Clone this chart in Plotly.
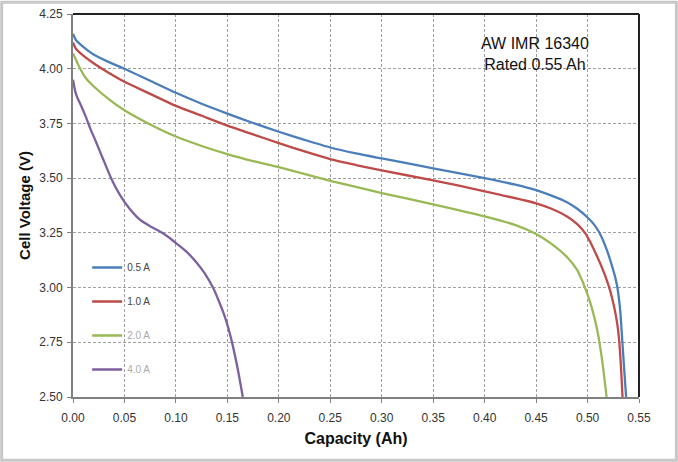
import plotly.graph_objects as go

# discharge curves: capacity (Ah) vs cell voltage (V)
cap_05 = [0, 0.003, 0.01, 0.02, 0.035, 0.05, 0.075, 0.10, 0.125, 0.15, 0.175, 0.20, 0.225, 0.25, 0.275, 0.30, 0.35,
          0.40, 0.43, 0.45, 0.465, 0.48, 0.49, 0.50, 0.506, 0.511, 0.516, 0.520, 0.524, 0.527, 0.529, 0.5305, 0.532,
          0.533, 0.534, 0.5357, 0.5375]
volt_05 = [4.16, 4.13, 4.10, 4.065, 4.03, 4.00, 3.945, 3.89, 3.84, 3.795, 3.752, 3.712, 3.675, 3.64, 3.613, 3.59, 3.545,
           3.50, 3.47, 3.445, 3.42, 3.39, 3.36, 3.32, 3.29, 3.255, 3.205, 3.155, 3.095, 3.045, 3.00, 2.95, 2.88,
           2.81, 2.74, 2.62, 2.50]

cap_10 = [0, 0.003, 0.01, 0.02, 0.035, 0.05, 0.075, 0.10, 0.125, 0.15, 0.175, 0.20, 0.225, 0.25, 0.275, 0.30, 0.35,
          0.40, 0.45, 0.465, 0.48, 0.49, 0.4975, 0.503, 0.509, 0.515, 0.519, 0.522, 0.525, 0.527, 0.529, 0.5305,
          0.5315, 0.5328, 0.534]
volt_10 = [4.12, 4.09, 4.06, 4.025, 3.98, 3.94, 3.885, 3.83, 3.785, 3.74, 3.70, 3.66, 3.622, 3.587, 3.56, 3.535, 3.49,
           3.44, 3.385, 3.36, 3.325, 3.29, 3.25, 3.205, 3.145, 3.08, 3.03, 2.985, 2.93, 2.885, 2.83, 2.77,
           2.71, 2.61, 2.50]

cap_20 = [0, 0.002, 0.004, 0.007, 0.012, 0.02, 0.035, 0.05, 0.075, 0.10, 0.125, 0.15, 0.175, 0.20, 0.25, 0.30,
          0.35, 0.40, 0.43, 0.45, 0.465, 0.48, 0.49, 0.494, 0.4975, 0.502, 0.506, 0.509, 0.511, 0.5135, 0.516, 0.5185]
volt_20 = [4.07, 4.05, 4.03, 4.00, 3.96, 3.92, 3.86, 3.81, 3.745, 3.69, 3.647, 3.61, 3.578, 3.55, 3.488, 3.432,
           3.38, 3.325, 3.285, 3.245, 3.20, 3.14, 3.08, 3.04, 3.00, 2.94, 2.875, 2.815, 2.765, 2.69, 2.60, 2.50]

cap_40 = [0, 0.002, 0.004, 0.008, 0.0125, 0.0165, 0.022, 0.029, 0.037, 0.046, 0.055, 0.065, 0.075, 0.085,
          0.093, 0.101, 0.11, 0.12, 0.128, 0.136, 0.142, 0.148, 0.154, 0.16, 0.165]
volt_40 = [3.95, 3.90, 3.87, 3.83, 3.78, 3.73, 3.67, 3.59, 3.50, 3.42, 3.36, 3.31, 3.28, 3.255,
           3.23, 3.20, 3.165, 3.115, 3.065, 3.00, 2.935, 2.86, 2.76, 2.63, 2.50]

x_ticks = [0.00, 0.05, 0.10, 0.15, 0.20, 0.25, 0.30, 0.35, 0.40, 0.45, 0.50, 0.55]
y_ticks = [2.50, 2.75, 3.00, 3.25, 3.50, 3.75, 4.00, 4.25]

series = [
    ("0.5 A", cap_05, volt_05, "#4A7EBB", "#444"),
    ("1.0 A", cap_10, volt_10, "#BE4B48", "#444"),
    ("2.0 A", cap_20, volt_20, "#98B954", "#aaa"),
    ("4.0 A", cap_40, volt_40, "#7D60A0", "#aaa"),
]

fig = go.Figure()
for name, xs, ys, col, tcol in series:
    fig.add_trace(go.Scatter(
        x=xs, y=ys, mode="lines", line=dict(color=col, width=2.3, shape="spline", smoothing=0.6),
        name=f"<span style='color:{tcol}'>{name}</span>", legendgroup=name,
    ))

font = "Liberation Sans, Arial, sans-serif"
fig.update_layout(
    width=678, height=462,
    margin=dict(l=73, r=39, t=14, b=65),
    paper_bgcolor="white", plot_bgcolor="white",
    font=dict(family=font, size=12, color="#333"),
    legend=dict(x=0.025, y=0.376, xanchor="left", yanchor="top",
                font=dict(size=10), tracegroupgap=15, bgcolor="rgba(0,0,0,0)",
                itemwidth=30),
    annotations=[dict(text="AW IMR 16340<br>Rated 0.55 Ah", xref="paper", yref="paper",
                      x=0.816, y=0.8956, xanchor="center", yanchor="middle", showarrow=False,
                      font=dict(size=16, color="#111", family=font))],
)

fig.update_xaxes(range=[0, 0.55], tickvals=x_ticks, tickformat=".2f", automargin=False,
                 showgrid=True, gridcolor="#a0a0a0", griddash="3px,2px", gridwidth=1,
                 showline=True, linecolor="#808080", linewidth=2, ticks="outside", ticklen=4,
                 tickcolor="#808080", zeroline=False, ticklabelstandoff=5,
                 title=dict(text="<b>Capacity (Ah)</b>", font=dict(size=16, color="#111"), standoff=8))
fig.update_yaxes(range=[2.5, 4.25], tickvals=y_ticks, tickformat=".2f", automargin=False,
                 showgrid=True, gridcolor="#a0a0a0", griddash="3px,2px", gridwidth=1,
                 showline=True, linecolor="#808080", linewidth=2, ticks="outside", ticklen=4,
                 tickcolor="#808080", zeroline=False, ticklabelstandoff=2,
                 title=dict(text="<b>Cell Voltage (V)</b>", font=dict(size=15, color="#111"), standoff=5))

# dark frame on top and right of the plot area, light border round the picture
fig.add_shape(type="line", xref="paper", yref="paper", x0=0, x1=1, y0=1, y1=1, line=dict(color="#222", width=2))
fig.add_shape(type="line", xref="paper", yref="paper", x0=1, x1=1, y0=0, y1=1, line=dict(color="#222", width=2))
fig.add_shape(type="rect", xref="paper", yref="paper", x0=-0.126, x1=1.066, y0=-0.165, y1=1.031,
              line=dict(color="#c8c8c8", width=3))

# page body has a default 8px margin, drop it so the figure sits at the window corner
fig.write_html("out.html", config={"displayModeBar": False},
               post_script="document.body.style.margin='0';")
